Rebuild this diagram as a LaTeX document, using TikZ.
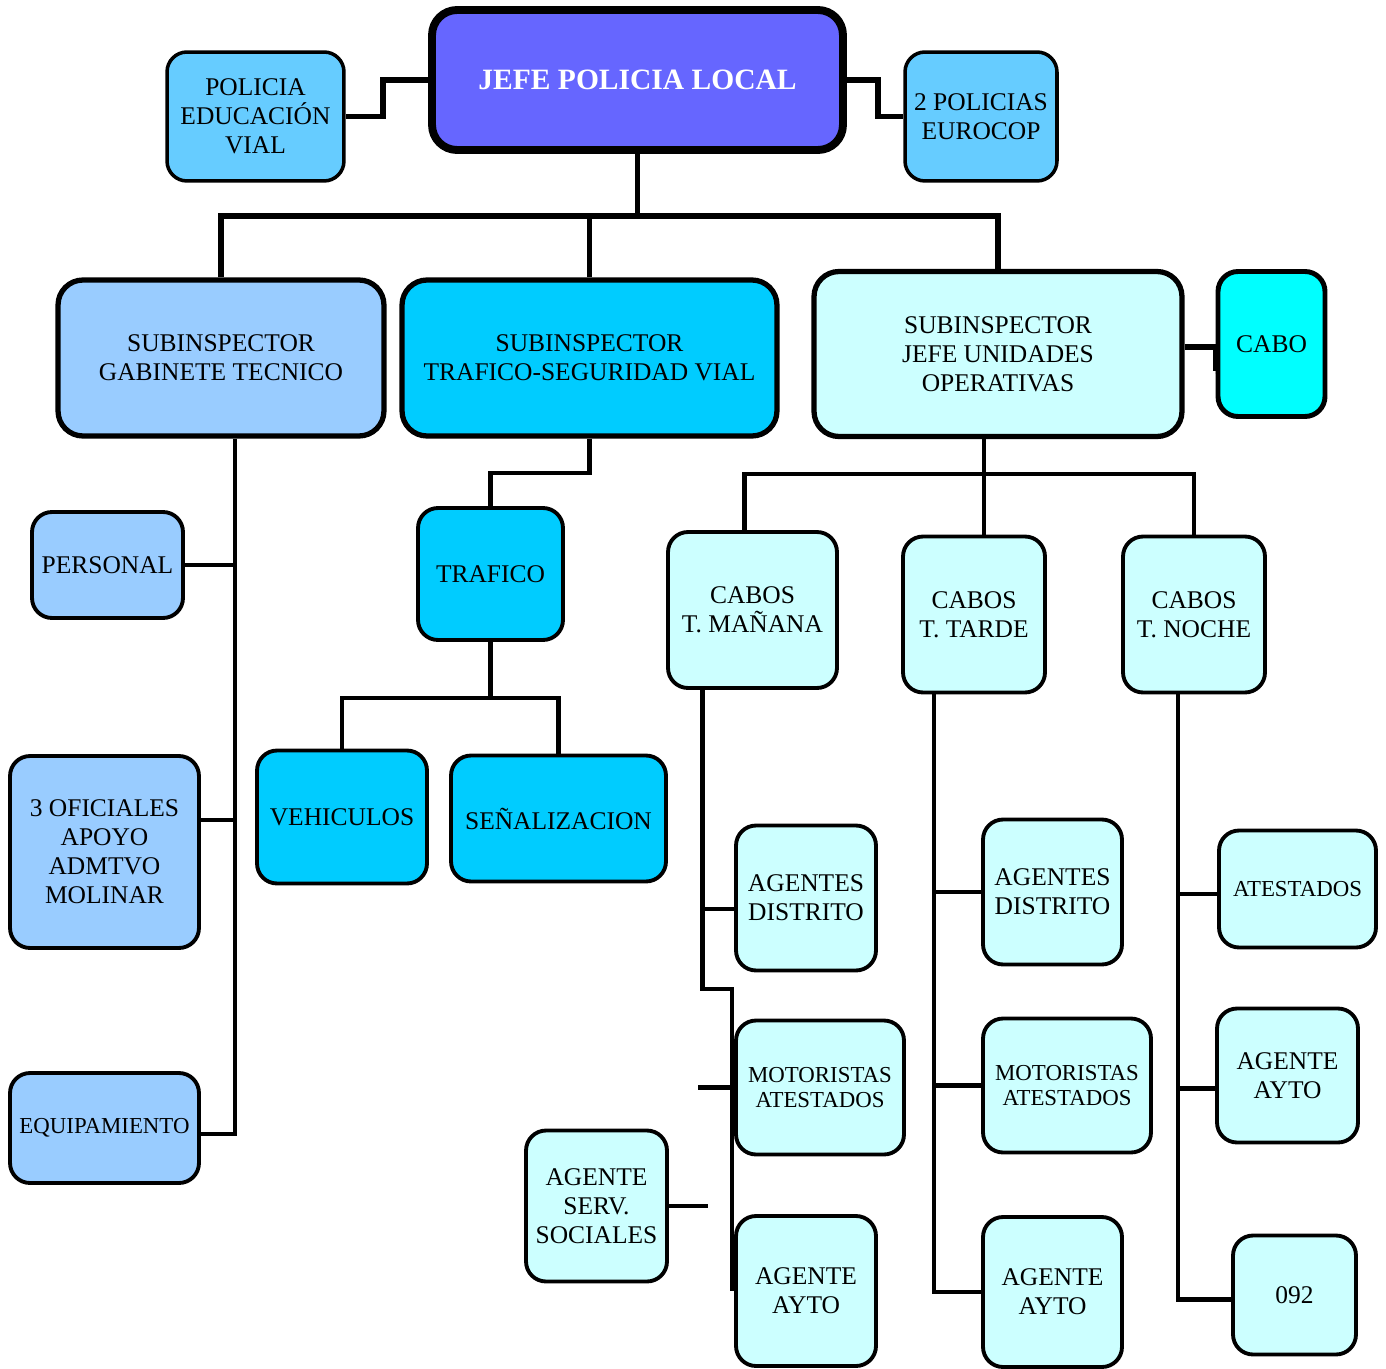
\documentclass[tikz,border=0pt]{standalone}
\usepackage{fontspec}
\setmainfont{Liberation Serif}
\usetikzlibrary{calc}

\definecolor{jefeblue}{HTML}{6666FF}
\definecolor{skyblue}{HTML}{66CCFF}
\definecolor{paleblue}{HTML}{99CCFF}
\definecolor{deepcyan}{HTML}{00CCFF}
\definecolor{palecyan}{HTML}{CCFFFF}
\definecolor{purecyan}{HTML}{00FFFF}

\begin{document}
\begin{tikzpicture}[
    x=0.02cm, y=-0.02cm,
    box/.style={rectangle, draw, align=center, rounded corners=0.4cm, line width=2.2pt, inner sep=1pt, font=\fontsize{14.5}{16.5}\selectfont},
    chief/.style={box, fill=jefeblue, line width=4.5pt, rounded corners=0.5cm, text=white, font=\fontsize{16.8}{18}\selectfont\bfseries},
    sub/.style={box, line width=3pt, rounded corners=0.5cm},
    small/.style={box, font=\fontsize{13}{14.2}\selectfont},
    trunk/.style={line width=3.4pt},
    link/.style={line width=2.3pt}
]

% Blocks
\node[chief] (jefe) at (637.5,80) [minimum width=8.22cm, minimum height=2.8cm] {JEFE POLICIA LOCAL};
\node[box, fill=skyblue, line width=2pt] (educ) at (255.5,116.5) [minimum width=3.54cm, minimum height=2.58cm] {POLICIA\\EDUCACIÓN\\VIAL};
\node[box, fill=skyblue, line width=2pt] (euro) at (981,116.5) [minimum width=3.04cm, minimum height=2.58cm] {2 POLICIAS\\EUROCOP};

\node[sub, fill=paleblue] (gab) at (221,358) [minimum width=6.52cm, minimum height=3.12cm] {SUBINSPECTOR\\GABINETE TECNICO};
\node[sub, fill=deepcyan] (subtraf) at (589.5,358) [minimum width=7.5cm, minimum height=3.12cm] {SUBINSPECTOR\\TRAFICO-SEGURIDAD VIAL};
\node[sub, fill=palecyan] (oper) at (998,354) [minimum width=7.36cm, minimum height=3.3cm] {SUBINSPECTOR\\JEFE UNIDADES\\OPERATIVAS};
\node[box, fill=purecyan, line width=2.8pt] (cabo) at (1271.5,344) [minimum width=2.14cm, minimum height=2.9cm] {CABO};

% Gabinete
\node[box, fill=paleblue] (personal) at (107.5,565) [minimum width=3.02cm, minimum height=2.12cm] {PERSONAL};
\node[box, fill=paleblue] (ofic) at (104.5,852) [minimum width=3.78cm, minimum height=3.84cm] {3 OFICIALES\\APOYO\\ADMTVO\\MOLINAR};
\node[small, fill=paleblue] (equip) at (104.5,1128) [minimum width=3.78cm, minimum height=2.2cm] {EQUIPAMIENTO};

% Trafico
\node[box, fill=deepcyan] (trafico) at (490.5,574) [minimum width=2.9cm, minimum height=2.64cm] {TRAFICO};
\node[box, fill=deepcyan] (vehic) at (342,817) [minimum width=3.4cm, minimum height=2.66cm] {VEHICULOS};
\node[box, fill=deepcyan] (senal) at (558.5,818.5) [minimum width=4.3cm, minimum height=2.52cm] {SEÑALIZACION};

% Turnos
\node[box, fill=palecyan] (manana) at (752.5,610) [minimum width=3.38cm, minimum height=3.12cm] {CABOS\\T. MAÑANA};
\node[box, fill=palecyan] (tarde) at (974,614.5) [minimum width=2.84cm, minimum height=3.12cm] {CABOS\\T. TARDE};
\node[box, fill=palecyan] (noche) at (1194,614.5) [minimum width=2.84cm, minimum height=3.12cm] {CABOS\\T. NOCHE};

\node[box, fill=palecyan] (dist1) at (806,898) [minimum width=2.8cm, minimum height=2.9cm] {AGENTES\\DISTRITO};
\node[small, fill=palecyan] (moto1) at (820,1087.5) [minimum width=3.36cm, minimum height=2.68cm] {MOTORISTAS\\ATESTADOS};
\node[box, fill=palecyan] (ayto1) at (806,1291) [minimum width=2.8cm, minimum height=3.0cm] {AGENTE\\AYTO};
\node[box, fill=palecyan] (serv) at (596.5,1206) [minimum width=2.82cm, minimum height=3.02cm] {AGENTE\\SERV.\\SOCIALES};

\node[box, fill=palecyan] (dist2) at (1052.5,892) [minimum width=2.78cm, minimum height=2.9cm] {AGENTES\\DISTRITO};
\node[small, fill=palecyan] (moto2) at (1067,1085.5) [minimum width=3.36cm, minimum height=2.68cm] {MOTORISTAS\\ATESTADOS};
\node[box, fill=palecyan] (ayto2) at (1052.5,1292) [minimum width=2.78cm, minimum height=3.0cm] {AGENTE\\AYTO};

\node[small, fill=palecyan] (atest) at (1297.5,889) [minimum width=3.14cm, minimum height=2.34cm] {ATESTADOS};
\node[box, fill=palecyan] (ayto3) at (1287.5,1075.5) [minimum width=2.82cm, minimum height=2.68cm] {AGENTE\\AYTO};
\node[box, fill=palecyan] (n092) at (1294.5,1295) [minimum width=2.46cm, minimum height=2.38cm] {092};

% Top connectors
\draw[trunk] (jefe.west) -- ++(-45,0) |- (educ.east);
\draw[trunk] (jefe.east) -- ++(31,0) |- (euro.west);
\draw[trunk] (jefe.south) -- ++(0,62) coordinate (hub);
\draw[trunk] (gab.north) |- (hub) -| (oper.north);
\draw[trunk] (subtraf.north) -- (subtraf.north |- hub);
\draw[trunk] ($(oper.east)+(0,-7)$) -- ++(31,0) |- ($(cabo.west)+(0,27)$);

% Gabinete
\draw[link, line width=2pt] ($(gab.south)+(14,0)$) coordinate (gb) |- ($(equip.east)+(0,6)$);
\draw[link, line width=2pt] (personal.east) -- (personal.east -| gb);
\draw[link, line width=2pt] ($(ofic.east)+(0,-32)$) -- ++(36,0);

% Trafico
\draw[link] (subtraf.south) -- ++(0,34) -| (trafico.north);
\draw[link] (trafico.south) -- ++(0,56) coordinate (tj);
\draw[link] (vehic.north) |- (tj) -| (senal.north);

% Turnos
\draw[link] ($(oper.south)+(-14,0)$) -- ($(tarde.north)+(10,0)$);
\draw[link] ($(manana.north)+(-8,0)$) |- ($(noche.north)+(0,-61)$) -- (noche.north);

\draw[link] ($(manana.south)+(-50,0)$) coordinate (mb) |- ($(moto1.north west)+(-2,-30)$) coordinate (mk) -- (mk |- ayto1.west);
\draw[link] ($(dist1.west)+(0,11)$) -- ($(dist1.west)+(-34,11)$);
\draw[link] ($(moto1.west)+(-36,0)$) -- (moto1.west);
\draw[link] (serv.east) -- ++(39,0);

\draw[link, line width=2.8pt] ($(tarde.south)+(-40,0)$) coordinate (tb) |- (ayto2.west);
\draw[link, line width=2.8pt] (tb |- dist2.west) -- (dist2.west);
\draw[link, line width=2.8pt] (tb |- moto2.west) -- (moto2.west);

\draw[link] ($(noche.south)+(-16,0)$) coordinate (nb) |- ($(n092.west)+(0,4.5)$);
\draw[link] ($(atest.west)+(0,5)$) -- ($(atest.west)+(-41,5)$);
\draw[link] ($(ayto3.west)+(0,13)$) -- ($(ayto3.west)+(-39,13)$);

\useasboundingbox (0,0) rectangle (1386,1365);
\end{tikzpicture}
\end{document}
